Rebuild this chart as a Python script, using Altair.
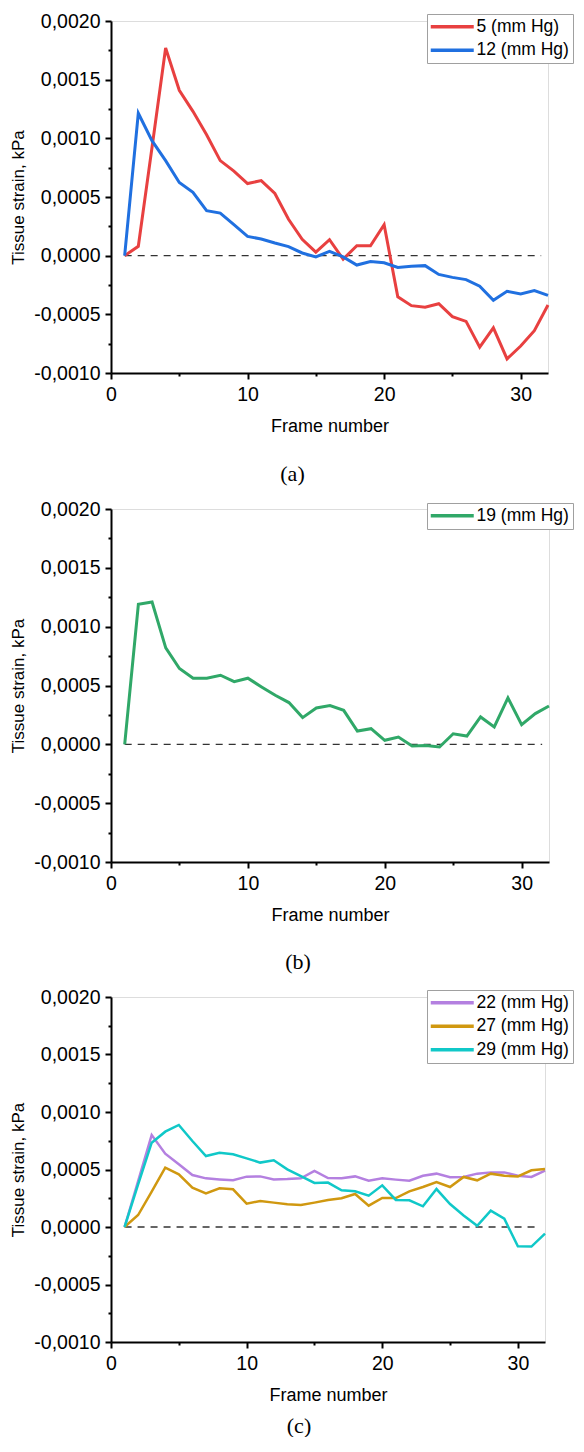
import altair as alt
import pandas as pd

frames = list(range(1, 33))

# Panel (a)
strain_5 = [0.0, 0.00008, 0.00092, 0.00177, 0.00141, 0.00123, 0.00103, 0.00081,
            0.00072, 0.000615, 0.00064, 0.00053, 0.00031, 0.00014, 0.00003, 0.000136,
            -0.00003, 0.000085, 0.000085, 0.000264, -0.00035, -0.000426, -0.00044, -0.00041,
            -0.00052, -0.00056, -0.00078, -0.000615, -0.00088, -0.00077, -0.00064, -0.00042]
strain_12 = [0.0, 0.001214, 0.00098, 0.00081, 0.000624, 0.00054, 0.000383, 0.000363,
             0.000264, 0.000164, 0.000142, 0.000108, 0.000077, 0.000023, -0.00001, 0.000037,
             -0.00001, -0.00008, -0.00005, -0.00006, -0.0001, -0.00009, -0.000085, -0.00016,
             -0.000185, -0.000204, -0.00026, -0.00038, -0.000304, -0.000326, -0.000298, -0.000338]
# Panel (b)
strain_19 = [0.0, 0.00119, 0.00121, 0.00082, 0.000644, 0.000562, 0.000562, 0.000587,
             0.000533, 0.000562, 0.000488, 0.000417, 0.000355, 0.000227, 0.000309, 0.000329,
             0.000289, 0.000113, 0.000133, 0.000034, 0.000062, -0.000014, -0.00001, -0.000023,
             0.00009, 0.00007, 0.000233, 0.000148, 0.000395, 0.000167, 0.000261, 0.000326]
# Panel (c)
strain_22 = [0.0, 0.0004, 0.0008, 0.000638, 0.000545, 0.000452, 0.000423, 0.000414,
             0.000406, 0.000438, 0.00044, 0.000414, 0.000417, 0.000423, 0.000487, 0.000426,
             0.000423, 0.00044, 0.000403, 0.000423, 0.000412, 0.000403, 0.000446, 0.000464,
             0.000432, 0.000435, 0.000464, 0.000475, 0.000475, 0.000446, 0.000435, 0.00049]
strain_27 = [0.0, 0.000104, 0.000307, 0.000516, 0.000458, 0.000342, 0.000293, 0.000336,
             0.000328, 0.000203, 0.000226, 0.000212, 0.000197, 0.000191, 0.000212, 0.000235,
             0.00025, 0.000287, 0.000186, 0.000252, 0.000252, 0.00031, 0.000348, 0.000391,
             0.000348, 0.000435, 0.000406, 0.000464, 0.000446, 0.00044, 0.000493, 0.000504]
strain_29 = [0.0, 0.00037, 0.000733, 0.000829, 0.000887, 0.000748, 0.000617, 0.000646,
             0.000632, 0.000597, 0.00056, 0.00058, 0.000501, 0.000443, 0.000383, 0.000386,
             0.000319, 0.00031, 0.000272, 0.000362, 0.000235, 0.000232, 0.00018, 0.00033,
             0.0002, 0.0001, 0.00001, 0.000142, 0.000072, -0.000168, -0.00017, -0.000058]

x_ticks = [0, 5, 10, 15, 20, 25, 30]
y_ticks = [round(-0.001 + 0.00025 * i, 5) for i in range(13)]

FONT = "Liberation Sans"


def x_axis():
    return alt.Axis(
        values=x_ticks,
        labelExpr="datum.value % 10 === 0 ? datum.label : ''",
        tickSize={"condition": {"test": "datum.value % 10 === 0", "value": 6}, "value": 3},
        title="Frame number", grid=False,
        domainColor="black", domainWidth=2, tickColor="black", tickWidth=2,
        labelFont=FONT, labelFontSize=19.5, labelColor="black", labelPadding=6,
        labelFlush=False, labelOverlap=False,
        titleFont=FONT, titleFontSize=18, titleFontWeight="normal", titleColor="black",
        titlePadding=14,
    )


def y_axis():
    return alt.Axis(
        values=y_ticks,
        labelExpr="abs(round(datum.value*4000)) % 2 === 0 ? replace(replace(format(datum.value, '.4f'), '.', ','), '\u2212', '-') : ''",
        tickSize={"condition": {"test": "abs(round(datum.value*4000)) % 2 === 0", "value": 6}, "value": 3},
        title="Tissue strain, kPa", grid=False,
        domainColor="black", domainWidth=2, tickColor="black", tickWidth=2,
        labelFont=FONT, labelFontSize=19.5, labelColor="black", labelPadding=5,
        labelFlush=False, labelOverlap=False,
        titleFont=FONT, titleFontSize=17, titleFontWeight="normal", titleColor="black",
        titlePadding=6,
    )


def panel(names, series, colors, caption, width, height, lx, ly, sw, cap_offset, cap_dx):
    rows = []
    for n, vals in zip(names, series):
        for f, v in zip(frames, vals):
            rows.append({"frame": f, "strain": v, "series": n})
    df = pd.DataFrame(rows)
    xs = alt.Scale(domain=[0, 32], nice=False, zero=False)
    ys = alt.Scale(domain=[-0.001, 0.002], nice=False, zero=False)
    rule = alt.Chart(pd.DataFrame({"x": [1], "x2": [31.5], "y": [0]})).mark_rule(
        strokeDash=[7, 6], color="#333333", strokeWidth=1.3
    ).encode(
        x=alt.X("x:Q", scale=xs, axis=x_axis()),
        x2="x2:Q",
        y=alt.Y("y:Q", scale=ys, axis=y_axis()),
    )
    line = alt.Chart(df).mark_line(strokeWidth=sw).encode(
        x=alt.X("frame:Q", scale=xs, axis=x_axis()),
        y=alt.Y("strain:Q", scale=ys, axis=y_axis()),
        color=alt.Color(
            "series:N", sort=names,
            scale=alt.Scale(domain=names, range=colors),
            legend=alt.Legend(
                title=None, orient="none", legendX=lx, legendY=ly, direction="vertical",
                symbolType="M-1.8,0H6.8", symbolSize=100, symbolStrokeWidth=3.5,
                labelFont=FONT, labelFontSize=17.5, labelColor="black", labelOffset=28,
                rowPadding=4.5, padding=4, strokeColor="#a0a0a0", fillColor="white",
                cornerRadius=0, labelLimit=0,
            ),
        ),
    )
    return alt.layer(rule, line).properties(
        width=width, height=height,
        title=alt.TitleParams(
            caption, orient="bottom", anchor="middle", frame="group",
            font="Liberation Serif", fontSize=22, fontWeight="normal", color="black",
            offset=cap_offset, dx=cap_dx,
        ),
    )


pa = panel(["5 (mm Hg)", "12 (mm Hg)"], [strain_5, strain_12], ["#E84040", "#2070E0"],
           "(a)", 437, 352, 316, -7, 3, 28, -37)
pb = panel(["19 (mm Hg)"], [strain_19], ["#30A868"],
           "(b)", 438, 353, 316, -6, 3, 27, -32)
pc = panel(["22 (mm Hg)", "27 (mm Hg)", "29 (mm Hg)"], [strain_22, strain_27, strain_29],
           ["#B480E0", "#D09810", "#10C8C8"], "(c)", 434, 345, 316, -7, 2.5, 11, -29)

chart = alt.vconcat(pa, pb, pc, spacing=13).resolve_scale(
    color="independent"
).resolve_legend(color="independent").properties(
    padding={"left": 1, "top": 2, "right": 0, "bottom": 0}
).configure_view(stroke=None).configure(background="white")

chart.save("out.html", embed_options={"renderer": "svg", "actions": False})
